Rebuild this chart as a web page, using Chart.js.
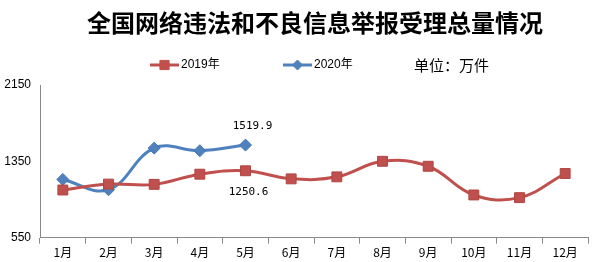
<!DOCTYPE html>
<html>
<head>
<meta charset="utf-8">
<script src="https://cdn.jsdelivr.net/npm/chart.js@4/dist/chart.umd.min.js"></script>
<style>
  html, body { margin: 0; padding: 0; background: #fff; }
  #wrap { width: 596px; height: 262px; }
</style>
</head>
<body>
<div id="wrap"><canvas id="myChart"></canvas></div>
<script>
var title = '全国网络违法和不良信息举报受理总量情况';
var unitText = '单位：万件';
var months = ['1月','2月','3月','4月','5月','6月','7月','8月','9月','10月','11月','12月'];
var data2019 = [1049, 1111, 1108, 1215, 1250.6, 1166, 1187, 1350, 1298, 997, 969, 1222];
var data2020 = [1160, 1052, 1488, 1461, 1519.9];
var yTicks = [550, 1350, 2150];
var labelIndex = 4; // 5月 values are labelled

var red = '#C0504D';
var blue = '#4F81BD';

// title + Excel-like legend (short line with marker, then the name)
var headerPlugin = {
    id: 'header',
    afterDraw: function (chart) {
        var c = chart.ctx;
        c.save();
        c.fillStyle = '#000';
        c.textBaseline = 'middle';
        c.textAlign = 'center';
        c.font = 'bold 24px "Noto Sans CJK SC"';
        c.fillText(title, 315, 23);

        var items = [
            { x: 150, color: red, style: 'rect', r: 6.5, text: '2019年' },
            { x: 283, color: blue, style: 'rectRot', r: 5, text: '2020年' }
        ];
        var y = 65;
        items.forEach(function (it) {
            c.strokeStyle = it.color;
            c.lineWidth = 3;
            c.beginPath();
            c.moveTo(it.x, y);
            c.lineTo(it.x + 29, y);
            c.stroke();
            c.fillStyle = it.color;
            c.strokeStyle = it.color;
            c.lineWidth = 1;
            Chart.helpers.drawPoint(c, { pointStyle: it.style, radius: it.r, borderWidth: 1 }, it.x + 14.5, y);
            c.fillStyle = '#000';
            c.font = '12px "Liberation Sans", "Noto Sans CJK SC"';
            c.textAlign = 'left';
            c.fillText(it.text, it.x + 31, y);
        });
        c.font = '15px "Noto Sans CJK SC"';
        c.fillText(unitText, 414, y);
        c.restore();
    }
};

// value labels for 5月
var valuePlugin = {
    id: 'valueLabels',
    afterDatasetsDraw: function (chart) {
        var c = chart.ctx;
        c.save();
        c.font = '11px "DejaVu Sans Mono"';
        c.fillStyle = '#000';
        c.textAlign = 'center';
        c.textBaseline = 'middle';
        var p20 = chart.getDatasetMeta(1).data[labelIndex];
        c.fillText(data2020[labelIndex].toFixed(1), p20.x + 7, p20.y - 19);
        var p19 = chart.getDatasetMeta(0).data[labelIndex];
        c.fillText(data2019[labelIndex].toFixed(1), p19.x + 3, p19.y + 21);
        c.restore();
    }
};

var ctx = document.getElementById('myChart').getContext('2d');
var myChart = new Chart(ctx, {
    type: 'line',
    data: {
        labels: months,
        datasets: [{
            label: '2019年',
            data: data2019,
            borderColor: red,
            backgroundColor: red,
            borderWidth: 3,
            tension: 0.4,
            pointStyle: 'rect',
            pointRadius: 7,
            pointBorderColor: '#B04542',
            pointBorderWidth: 1
        }, {
            label: '2020年',
            data: data2020,
            borderColor: blue,
            backgroundColor: blue,
            borderWidth: 3,
            tension: 0.4,
            pointStyle: 'rectRot',
            pointRadius: 6,
            pointBorderColor: '#4575B0',
            pointBorderWidth: 1
        }]
    },
    options: {
        responsive: true,
        maintainAspectRatio: false,
        animation: false,
        layout: { padding: { top: 85, left: 0, right: 6, bottom: 0 } },
        plugins: {
            legend: { display: false },
            tooltip: { enabled: false },
            title: { display: false }
        },
        scales: {
            x: {
                offset: true,
                grid: {
                    offset: true,
                    drawOnChartArea: false,
                    tickLength: 6,
                    color: '#888'
                },
                border: { color: '#888' },
                ticks: {
                    color: '#000',
                    padding: 2,
                    font: { family: '"Noto Sans CJK SC"', size: 12 }
                }
            },
            y: {
                min: 550,
                max: 2150,
                afterBuildTicks: function (axis) {
                    axis.ticks = yTicks.map(function (v) { return { value: v }; });
                },
                afterFit: function (axis) { axis.width = 40; },
                grid: { display: false, drawTicks: false, tickLength: 0 },
                border: { color: '#888' },
                ticks: {
                    color: '#000',
                    padding: 9,
                    font: { family: '"Liberation Sans"', size: 12 },
                    callback: function (v) { return String(v); }
                }
            }
        }
    },
    plugins: [headerPlugin, valuePlugin]
});
</script>
</body>
</html>
